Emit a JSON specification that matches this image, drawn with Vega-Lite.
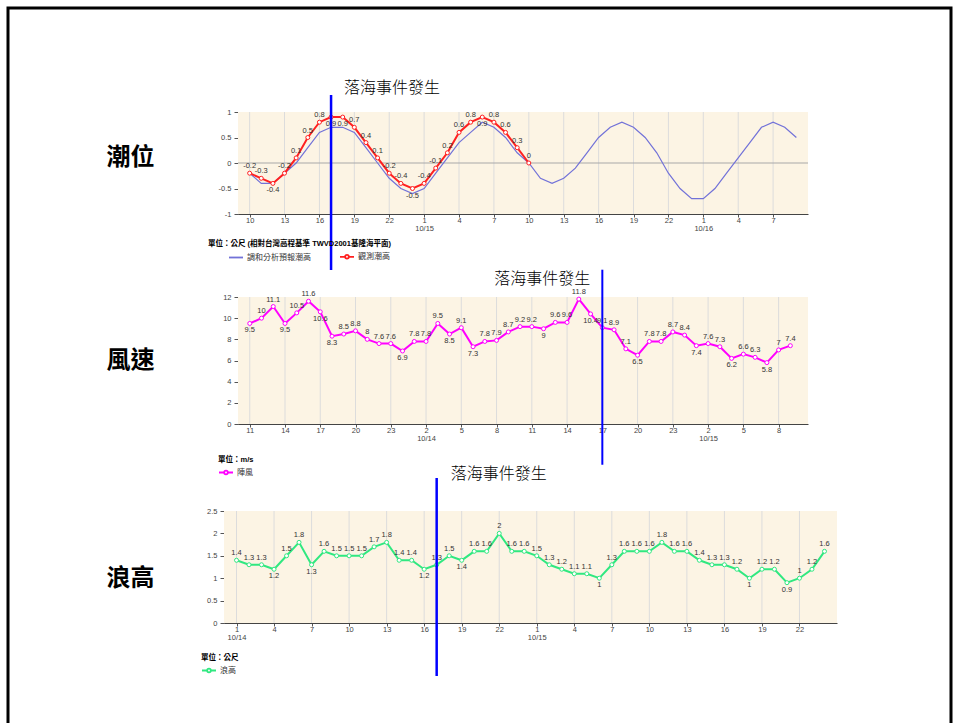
{
  "$schema": "https://vega.github.io/schema/vega-lite/v6.json",
  "width": 943,
  "height": 720,
  "autosize": "none",
  "padding": {"left": 8, "top": 8, "right": 4, "bottom": 0},
  "background": "white",
  "config": {
    "view": {"stroke": "#000000", "strokeWidth": 3},
    "font": "Liberation Sans, Noto Sans CJK TC",
    "axis": {
      "grid": false,
      "domainColor": "#444444",
      "domainWidth": 1,
      "tickColor": "#555555",
      "labelColor": "#444444",
      "labelFont": "Liberation Sans",
      "labelFontSize": 7.5,
      "labelFlush": false,
      "labelOverlap": false,
      "labelBound": false
    },
    "axisX": {"tickSize": 3, "labelPadding": -1, "labelLineHeight": 8},
    "axisY": {
      "tickSize": 4, "labelPadding": 3,
      "titleAngle": 0, "titleAlign": "center", "titleBaseline": "middle",
      "titleFont": "Noto Sans CJK TC", "titleFontSize": 24, "titleFontWeight": "bold", "titleColor": "#000000"
    },
    "legend": {
      "orient": "none", "direction": "horizontal", "padding": 0,
      "titleFont": "Liberation Sans, Noto Sans CJK TC", "titleFontSize": 7.5, "titleFontWeight": "bold",
      "titleColor": "#000000", "titlePadding": 1, "titleLimit": 400,
      "labelFont": "Liberation Sans, Noto Sans CJK TC", "labelFontSize": 8, "labelColor": "#333333", "labelOffset": 3,
      "symbolSize": 196, "symbolStrokeWidth": 1.8, "columnPadding": 8
    }
  },
  "datasets": {
    "events": [{"t": "2023-10-14T17:00", "label": "落海事件發生"}],
    "tide": [
      {"t": "2023-10-14T10:00", "series": "調和分析預報潮高", "v": -0.2},
      {"t": "2023-10-14T11:00", "series": "調和分析預報潮高", "v": -0.4},
      {"t": "2023-10-14T12:00", "series": "調和分析預報潮高", "v": -0.4},
      {"t": "2023-10-14T13:00", "series": "調和分析預報潮高", "v": -0.2},
      {"t": "2023-10-14T14:00", "series": "調和分析預報潮高", "v": 0},
      {"t": "2023-10-14T15:00", "series": "調和分析預報潮高", "v": 0.3},
      {"t": "2023-10-14T16:00", "series": "調和分析預報潮高", "v": 0.6},
      {"t": "2023-10-14T17:00", "series": "調和分析預報潮高", "v": 0.7},
      {"t": "2023-10-14T18:00", "series": "調和分析預報潮高", "v": 0.7},
      {"t": "2023-10-14T19:00", "series": "調和分析預報潮高", "v": 0.6},
      {"t": "2023-10-14T20:00", "series": "調和分析預報潮高", "v": 0.3},
      {"t": "2023-10-14T21:00", "series": "調和分析預報潮高", "v": 0},
      {"t": "2023-10-14T22:00", "series": "調和分析預報潮高", "v": -0.3},
      {"t": "2023-10-14T23:00", "series": "調和分析預報潮高", "v": -0.5},
      {"t": "2023-10-15T00:00", "series": "調和分析預報潮高", "v": -0.6},
      {"t": "2023-10-15T01:00", "series": "調和分析預報潮高", "v": -0.5},
      {"t": "2023-10-15T02:00", "series": "調和分析預報潮高", "v": -0.2},
      {"t": "2023-10-15T03:00", "series": "調和分析預報潮高", "v": 0.1},
      {"t": "2023-10-15T04:00", "series": "調和分析預報潮高", "v": 0.4},
      {"t": "2023-10-15T05:00", "series": "調和分析預報潮高", "v": 0.6},
      {"t": "2023-10-15T06:00", "series": "調和分析預報潮高", "v": 0.8},
      {"t": "2023-10-15T07:00", "series": "調和分析預報潮高", "v": 0.7},
      {"t": "2023-10-15T08:00", "series": "調和分析預報潮高", "v": 0.5},
      {"t": "2023-10-15T09:00", "series": "調和分析預報潮高", "v": 0.2},
      {"t": "2023-10-15T10:00", "series": "調和分析預報潮高", "v": 0},
      {"t": "2023-10-15T11:00", "series": "調和分析預報潮高", "v": -0.3},
      {"t": "2023-10-15T12:00", "series": "調和分析預報潮高", "v": -0.4},
      {"t": "2023-10-15T13:00", "series": "調和分析預報潮高", "v": -0.3},
      {"t": "2023-10-15T14:00", "series": "調和分析預報潮高", "v": -0.1},
      {"t": "2023-10-15T15:00", "series": "調和分析預報潮高", "v": 0.2},
      {"t": "2023-10-15T16:00", "series": "調和分析預報潮高", "v": 0.5},
      {"t": "2023-10-15T17:00", "series": "調和分析預報潮高", "v": 0.7},
      {"t": "2023-10-15T18:00", "series": "調和分析預報潮高", "v": 0.8},
      {"t": "2023-10-15T19:00", "series": "調和分析預報潮高", "v": 0.7},
      {"t": "2023-10-15T20:00", "series": "調和分析預報潮高", "v": 0.5},
      {"t": "2023-10-15T21:00", "series": "調和分析預報潮高", "v": 0.2},
      {"t": "2023-10-15T22:00", "series": "調和分析預報潮高", "v": -0.2},
      {"t": "2023-10-15T23:00", "series": "調和分析預報潮高", "v": -0.5},
      {"t": "2023-10-16T00:00", "series": "調和分析預報潮高", "v": -0.7},
      {"t": "2023-10-16T01:00", "series": "調和分析預報潮高", "v": -0.7},
      {"t": "2023-10-16T02:00", "series": "調和分析預報潮高", "v": -0.5},
      {"t": "2023-10-16T03:00", "series": "調和分析預報潮高", "v": -0.2},
      {"t": "2023-10-16T04:00", "series": "調和分析預報潮高", "v": 0.1},
      {"t": "2023-10-16T05:00", "series": "調和分析預報潮高", "v": 0.4},
      {"t": "2023-10-16T06:00", "series": "調和分析預報潮高", "v": 0.7},
      {"t": "2023-10-16T07:00", "series": "調和分析預報潮高", "v": 0.8},
      {"t": "2023-10-16T08:00", "series": "調和分析預報潮高", "v": 0.7},
      {"t": "2023-10-16T09:00", "series": "調和分析預報潮高", "v": 0.5},
      {"t": "2023-10-14T10:00", "series": "觀測潮高", "v": -0.2},
      {"t": "2023-10-14T11:00", "series": "觀測潮高", "v": -0.3},
      {"t": "2023-10-14T12:00", "series": "觀測潮高", "v": -0.4},
      {"t": "2023-10-14T13:00", "series": "觀測潮高", "v": -0.2},
      {"t": "2023-10-14T14:00", "series": "觀測潮高", "v": 0.1},
      {"t": "2023-10-14T15:00", "series": "觀測潮高", "v": 0.5},
      {"t": "2023-10-14T16:00", "series": "觀測潮高", "v": 0.8},
      {"t": "2023-10-14T17:00", "series": "觀測潮高", "v": 0.9},
      {"t": "2023-10-14T18:00", "series": "觀測潮高", "v": 0.9},
      {"t": "2023-10-14T19:00", "series": "觀測潮高", "v": 0.7},
      {"t": "2023-10-14T20:00", "series": "觀測潮高", "v": 0.4},
      {"t": "2023-10-14T21:00", "series": "觀測潮高", "v": 0.1},
      {"t": "2023-10-14T22:00", "series": "觀測潮高", "v": -0.2},
      {"t": "2023-10-14T23:00", "series": "觀測潮高", "v": -0.4},
      {"t": "2023-10-15T00:00", "series": "觀測潮高", "v": -0.5},
      {"t": "2023-10-15T01:00", "series": "觀測潮高", "v": -0.4},
      {"t": "2023-10-15T02:00", "series": "觀測潮高", "v": -0.1},
      {"t": "2023-10-15T03:00", "series": "觀測潮高", "v": 0.2},
      {"t": "2023-10-15T04:00", "series": "觀測潮高", "v": 0.6},
      {"t": "2023-10-15T05:00", "series": "觀測潮高", "v": 0.8},
      {"t": "2023-10-15T06:00", "series": "觀測潮高", "v": 0.9},
      {"t": "2023-10-15T07:00", "series": "觀測潮高", "v": 0.8},
      {"t": "2023-10-15T08:00", "series": "觀測潮高", "v": 0.6},
      {"t": "2023-10-15T09:00", "series": "觀測潮高", "v": 0.3},
      {"t": "2023-10-15T10:00", "series": "觀測潮高", "v": 0}
    ],
    "wind": [
      {"t": "2023-10-13T11:00", "series": "陣風", "v": 9.5},
      {"t": "2023-10-13T12:00", "series": "陣風", "v": 10},
      {"t": "2023-10-13T13:00", "series": "陣風", "v": 11.1},
      {"t": "2023-10-13T14:00", "series": "陣風", "v": 9.5},
      {"t": "2023-10-13T15:00", "series": "陣風", "v": 10.5},
      {"t": "2023-10-13T16:00", "series": "陣風", "v": 11.6},
      {"t": "2023-10-13T17:00", "series": "陣風", "v": 10.6},
      {"t": "2023-10-13T18:00", "series": "陣風", "v": 8.3},
      {"t": "2023-10-13T19:00", "series": "陣風", "v": 8.5},
      {"t": "2023-10-13T20:00", "series": "陣風", "v": 8.8},
      {"t": "2023-10-13T21:00", "series": "陣風", "v": 8},
      {"t": "2023-10-13T22:00", "series": "陣風", "v": 7.6},
      {"t": "2023-10-13T23:00", "series": "陣風", "v": 7.6},
      {"t": "2023-10-14T00:00", "series": "陣風", "v": 6.9},
      {"t": "2023-10-14T01:00", "series": "陣風", "v": 7.8},
      {"t": "2023-10-14T02:00", "series": "陣風", "v": 7.8},
      {"t": "2023-10-14T03:00", "series": "陣風", "v": 9.5},
      {"t": "2023-10-14T04:00", "series": "陣風", "v": 8.5},
      {"t": "2023-10-14T05:00", "series": "陣風", "v": 9.1},
      {"t": "2023-10-14T06:00", "series": "陣風", "v": 7.3},
      {"t": "2023-10-14T07:00", "series": "陣風", "v": 7.8},
      {"t": "2023-10-14T08:00", "series": "陣風", "v": 7.9},
      {"t": "2023-10-14T09:00", "series": "陣風", "v": 8.7},
      {"t": "2023-10-14T10:00", "series": "陣風", "v": 9.2},
      {"t": "2023-10-14T11:00", "series": "陣風", "v": 9.2},
      {"t": "2023-10-14T12:00", "series": "陣風", "v": 9},
      {"t": "2023-10-14T13:00", "series": "陣風", "v": 9.6},
      {"t": "2023-10-14T14:00", "series": "陣風", "v": 9.6},
      {"t": "2023-10-14T15:00", "series": "陣風", "v": 11.8},
      {"t": "2023-10-14T16:00", "series": "陣風", "v": 10.4},
      {"t": "2023-10-14T17:00", "series": "陣風", "v": 9.1},
      {"t": "2023-10-14T18:00", "series": "陣風", "v": 8.9},
      {"t": "2023-10-14T19:00", "series": "陣風", "v": 7.1},
      {"t": "2023-10-14T20:00", "series": "陣風", "v": 6.5},
      {"t": "2023-10-14T21:00", "series": "陣風", "v": 7.8},
      {"t": "2023-10-14T22:00", "series": "陣風", "v": 7.8},
      {"t": "2023-10-14T23:00", "series": "陣風", "v": 8.7},
      {"t": "2023-10-15T00:00", "series": "陣風", "v": 8.4},
      {"t": "2023-10-15T01:00", "series": "陣風", "v": 7.4},
      {"t": "2023-10-15T02:00", "series": "陣風", "v": 7.6},
      {"t": "2023-10-15T03:00", "series": "陣風", "v": 7.3},
      {"t": "2023-10-15T04:00", "series": "陣風", "v": 6.2},
      {"t": "2023-10-15T05:00", "series": "陣風", "v": 6.6},
      {"t": "2023-10-15T06:00", "series": "陣風", "v": 6.3},
      {"t": "2023-10-15T07:00", "series": "陣風", "v": 5.8},
      {"t": "2023-10-15T08:00", "series": "陣風", "v": 7},
      {"t": "2023-10-15T09:00", "series": "陣風", "v": 7.4}
    ],
    "wave": [
      {"t": "2023-10-14T01:00", "series": "浪高", "v": 1.4},
      {"t": "2023-10-14T02:00", "series": "浪高", "v": 1.3},
      {"t": "2023-10-14T03:00", "series": "浪高", "v": 1.3},
      {"t": "2023-10-14T04:00", "series": "浪高", "v": 1.2},
      {"t": "2023-10-14T05:00", "series": "浪高", "v": 1.5},
      {"t": "2023-10-14T06:00", "series": "浪高", "v": 1.8},
      {"t": "2023-10-14T07:00", "series": "浪高", "v": 1.3},
      {"t": "2023-10-14T08:00", "series": "浪高", "v": 1.6},
      {"t": "2023-10-14T09:00", "series": "浪高", "v": 1.5},
      {"t": "2023-10-14T10:00", "series": "浪高", "v": 1.5},
      {"t": "2023-10-14T11:00", "series": "浪高", "v": 1.5},
      {"t": "2023-10-14T12:00", "series": "浪高", "v": 1.7},
      {"t": "2023-10-14T13:00", "series": "浪高", "v": 1.8},
      {"t": "2023-10-14T14:00", "series": "浪高", "v": 1.4},
      {"t": "2023-10-14T15:00", "series": "浪高", "v": 1.4},
      {"t": "2023-10-14T16:00", "series": "浪高", "v": 1.2},
      {"t": "2023-10-14T17:00", "series": "浪高", "v": 1.3},
      {"t": "2023-10-14T18:00", "series": "浪高", "v": 1.5},
      {"t": "2023-10-14T19:00", "series": "浪高", "v": 1.4},
      {"t": "2023-10-14T20:00", "series": "浪高", "v": 1.6},
      {"t": "2023-10-14T21:00", "series": "浪高", "v": 1.6},
      {"t": "2023-10-14T22:00", "series": "浪高", "v": 2},
      {"t": "2023-10-14T23:00", "series": "浪高", "v": 1.6},
      {"t": "2023-10-15T00:00", "series": "浪高", "v": 1.6},
      {"t": "2023-10-15T01:00", "series": "浪高", "v": 1.5},
      {"t": "2023-10-15T02:00", "series": "浪高", "v": 1.3},
      {"t": "2023-10-15T03:00", "series": "浪高", "v": 1.2},
      {"t": "2023-10-15T04:00", "series": "浪高", "v": 1.1},
      {"t": "2023-10-15T05:00", "series": "浪高", "v": 1.1},
      {"t": "2023-10-15T06:00", "series": "浪高", "v": 1},
      {"t": "2023-10-15T07:00", "series": "浪高", "v": 1.3},
      {"t": "2023-10-15T08:00", "series": "浪高", "v": 1.6},
      {"t": "2023-10-15T09:00", "series": "浪高", "v": 1.6},
      {"t": "2023-10-15T10:00", "series": "浪高", "v": 1.6},
      {"t": "2023-10-15T11:00", "series": "浪高", "v": 1.8},
      {"t": "2023-10-15T12:00", "series": "浪高", "v": 1.6},
      {"t": "2023-10-15T13:00", "series": "浪高", "v": 1.6},
      {"t": "2023-10-15T14:00", "series": "浪高", "v": 1.4},
      {"t": "2023-10-15T15:00", "series": "浪高", "v": 1.3},
      {"t": "2023-10-15T16:00", "series": "浪高", "v": 1.3},
      {"t": "2023-10-15T17:00", "series": "浪高", "v": 1.2},
      {"t": "2023-10-15T18:00", "series": "浪高", "v": 1},
      {"t": "2023-10-15T19:00", "series": "浪高", "v": 1.2},
      {"t": "2023-10-15T20:00", "series": "浪高", "v": 1.2},
      {"t": "2023-10-15T21:00", "series": "浪高", "v": 0.9},
      {"t": "2023-10-15T22:00", "series": "浪高", "v": 1},
      {"t": "2023-10-15T23:00", "series": "浪高", "v": 1.2},
      {"t": "2023-10-16T00:00", "series": "浪高", "v": 1.6}
    ]
  },
  "resolve": {
    "scale": {"x": "independent", "y": "independent", "color": "independent"},
    "axis": {"x": "independent", "y": "independent"},
    "legend": {"color": "independent"}
  },
  "layer": [
    {
      "layer": [
        {
          "data": {"values": [{}]},
          "mark": {"type": "rect", "color": "#fcf4e4"},
          "encoding": {
            "x": {"datum": {"year": 2023, "month": 10, "date": 14, "hours": 9}, "type": "temporal",
                  "scale": {"domain": [{"year": 2023, "month": 10, "date": 14, "hours": 9}, {"year": 2023, "month": 10, "date": 16, "hours": 10}], "range": [230, 800]}},
            "x2": {"datum": {"year": 2023, "month": 10, "date": 16, "hours": 10}},
            "y": {"datum": -1, "type": "quantitative", "scale": {"domain": [-1, 1], "range": [206, 104], "nice": false, "zero": false}},
            "y2": {"datum": 1}
          }
        },
        {
          "data": {"name": "tide"},
          "transform": [{"filter": "datum.series === '調和分析預報潮高' && hours(toDate(datum.t)) % 3 === 1"}],
          "mark": {"type": "rule", "color": "#dcdcdc", "strokeWidth": 1},
          "encoding": {
            "x": {"field": "t", "type": "temporal"},
            "y": {"datum": -1, "type": "quantitative"},
            "y2": {"datum": 1}
          }
        },
        {
          "data": {"values": [{}]},
          "mark": {"type": "rule", "color": "#a8a8a8", "strokeWidth": 1},
          "encoding": {
            "x": {"datum": {"year": 2023, "month": 10, "date": 14, "hours": 9}, "type": "temporal"},
            "x2": {"datum": {"year": 2023, "month": 10, "date": 16, "hours": 10}},
            "y": {"datum": 0, "type": "quantitative"}
          }
        },
        {
          "data": {"name": "tide"},
          "transform": [{"filter": "datum.series === '調和分析預報潮高'"}],
          "mark": {"type": "line", "strokeWidth": 1.2},
          "encoding": {
            "x": {"field": "t", "type": "temporal",
                  "axis": {"orient": "bottom", "offset": -514, "title": null,
                           "labelExpr": "hours(datum.value) < 3 ? ['' + hours(datum.value), timeFormat(datum.value, '%m/%d')] : '' + hours(datum.value)",
                           "values": [
                             {"year": 2023, "month": 10, "date": 14, "hours": 10}, {"year": 2023, "month": 10, "date": 14, "hours": 13},
                             {"year": 2023, "month": 10, "date": 14, "hours": 16}, {"year": 2023, "month": 10, "date": 14, "hours": 19},
                             {"year": 2023, "month": 10, "date": 14, "hours": 22}, {"year": 2023, "month": 10, "date": 15, "hours": 1},
                             {"year": 2023, "month": 10, "date": 15, "hours": 4}, {"year": 2023, "month": 10, "date": 15, "hours": 7},
                             {"year": 2023, "month": 10, "date": 15, "hours": 10}, {"year": 2023, "month": 10, "date": 15, "hours": 13},
                             {"year": 2023, "month": 10, "date": 15, "hours": 16}, {"year": 2023, "month": 10, "date": 15, "hours": 19},
                             {"year": 2023, "month": 10, "date": 15, "hours": 22}, {"year": 2023, "month": 10, "date": 16, "hours": 1},
                             {"year": 2023, "month": 10, "date": 16, "hours": 4}, {"year": 2023, "month": 10, "date": 16, "hours": 7}
                           ]}},
            "y": {"field": "v", "type": "quantitative",
                  "axis": {"orient": "left", "offset": -230, "values": [-1, -0.5, 0, 0.5, 1], "labelExpr": "'' + datum.value",
                           "title": "潮位", "titleX": -108, "titleY": 149}},
            "color": {"field": "series", "type": "nominal",
                      "scale": {"domain": ["調和分析預報潮高", "觀測潮高"], "range": ["#7272d8", "#ff2020"]},
                      "legend": {"title": "單位：公尺 (相對台灣高程基準 TWVD2001基隆海平面)", "legendX": 200, "legendY": 232,
                                 "symbolOffset": 20,
                                 "encode": {"symbols": {"update": {
                                   "shape": {"signal": "datum.value === '觀測潮高' ? 'M-1,0H-0.26M0.26,0H1M0.26,0A0.26,0.26,0,1,1,-0.26,0A0.26,0.26,0,1,1,0.26,0' : 'stroke'"},
                                   "fill": {"value": "#ffffff"}}}}}}
          }
        },
        {
          "data": {"name": "tide"},
          "transform": [{"filter": "datum.series === '觀測潮高'"}],
          "mark": {"type": "line", "strokeWidth": 2},
          "encoding": {
            "x": {"field": "t", "type": "temporal"},
            "y": {"field": "v", "type": "quantitative"},
            "color": {"field": "series", "type": "nominal"}
          }
        },
        {
          "data": {"name": "tide"},
          "transform": [{"filter": "datum.series === '觀測潮高'"}],
          "mark": {"type": "point", "filled": true, "fill": "#ffffff", "stroke": "#ff2020", "strokeWidth": 1, "size": 16, "opacity": 1},
          "encoding": {
            "x": {"field": "t", "type": "temporal"},
            "y": {"field": "v", "type": "quantitative"}
          }
        },
        {
          "data": {"name": "tide"},
          "transform": [{"filter": "datum.series === '觀測潮高' && indexof(['10/14 12', '10/14 17', '10/14 18', '10/15 00', '10/15 06'], timeFormat(toDate(datum.t), '%m/%d %H')) < 0"}],
          "mark": {"type": "text", "baseline": "bottom", "dy": -3, "fontSize": 7.5, "font": "Liberation Sans", "color": "#333333"},
          "encoding": {
            "x": {"field": "t", "type": "temporal"},
            "y": {"field": "v", "type": "quantitative"},
            "text": {"field": "v", "type": "nominal"}
          }
        },
        {
          "data": {"name": "tide"},
          "transform": [{"filter": "datum.series === '觀測潮高' && indexof(['10/14 12', '10/14 17', '10/14 18', '10/15 00', '10/15 06'], timeFormat(toDate(datum.t), '%m/%d %H')) >= 0"}],
          "mark": {"type": "text", "baseline": "top", "dy": 3, "fontSize": 7.5, "font": "Liberation Sans", "color": "#333333"},
          "encoding": {
            "x": {"field": "t", "type": "temporal"},
            "y": {"field": "v", "type": "quantitative"},
            "text": {"field": "v", "type": "nominal"}
          }
        },
        {
          "data": {"name": "events"},
          "mark": {"type": "rule", "color": "#0000ff", "strokeWidth": 2.5},
          "encoding": {
            "x": {"field": "t", "type": "temporal"},
            "y": {"datum": 1.333, "type": "quantitative"},
            "y2": {"datum": -2.098}
          }
        },
        {
          "data": {"name": "events"},
          "mark": {"type": "text", "align": "left", "baseline": "middle", "dx": 13, "fontSize": 16, "fontWeight": 300, "font": "Noto Sans CJK TC", "color": "#000000"},
          "encoding": {
            "x": {"field": "t", "type": "temporal"},
            "y": {"datum": 1.47, "type": "quantitative"},
            "text": {"field": "label"}
          }
        }
      ]
    },
    {
      "layer": [
        {
          "data": {"values": [{}]},
          "mark": {"type": "rect", "color": "#fcf4e4"},
          "encoding": {
            "x": {"datum": {"year": 2023, "month": 10, "date": 13, "hours": 10}, "type": "temporal",
                  "scale": {"domain": [{"year": 2023, "month": 10, "date": 13, "hours": 10}, {"year": 2023, "month": 10, "date": 15, "hours": 10, "minutes": 30}], "range": [230, 800]}},
            "x2": {"datum": {"year": 2023, "month": 10, "date": 15, "hours": 10, "minutes": 30}},
            "y": {"datum": 0, "type": "quantitative", "scale": {"domain": [0, 12], "range": [416, 289], "nice": false, "zero": false}},
            "y2": {"datum": 12}
          }
        },
        {
          "data": {"name": "wind"},
          "transform": [{"filter": "hours(toDate(datum.t)) % 3 === 2"}],
          "mark": {"type": "rule", "color": "#dcdcdc", "strokeWidth": 1},
          "encoding": {
            "x": {"field": "t", "type": "temporal"},
            "y": {"datum": 0, "type": "quantitative"},
            "y2": {"datum": 12}
          }
        },
        {
          "data": {"name": "wind"},
          "mark": {"type": "line", "strokeWidth": 2},
          "encoding": {
            "x": {"field": "t", "type": "temporal",
                  "axis": {"orient": "bottom", "offset": -304, "title": null,
                           "labelExpr": "hours(datum.value) < 3 ? ['' + hours(datum.value), timeFormat(datum.value, '%m/%d')] : '' + hours(datum.value)",
                           "values": [
                             {"year": 2023, "month": 10, "date": 13, "hours": 11}, {"year": 2023, "month": 10, "date": 13, "hours": 14},
                             {"year": 2023, "month": 10, "date": 13, "hours": 17}, {"year": 2023, "month": 10, "date": 13, "hours": 20},
                             {"year": 2023, "month": 10, "date": 13, "hours": 23}, {"year": 2023, "month": 10, "date": 14, "hours": 2},
                             {"year": 2023, "month": 10, "date": 14, "hours": 5}, {"year": 2023, "month": 10, "date": 14, "hours": 8},
                             {"year": 2023, "month": 10, "date": 14, "hours": 11}, {"year": 2023, "month": 10, "date": 14, "hours": 14},
                             {"year": 2023, "month": 10, "date": 14, "hours": 17}, {"year": 2023, "month": 10, "date": 14, "hours": 20},
                             {"year": 2023, "month": 10, "date": 14, "hours": 23}, {"year": 2023, "month": 10, "date": 15, "hours": 2},
                             {"year": 2023, "month": 10, "date": 15, "hours": 5}, {"year": 2023, "month": 10, "date": 15, "hours": 8}
                           ]}},
            "y": {"field": "v", "type": "quantitative",
                  "axis": {"orient": "left", "offset": -230, "values": [0, 2, 4, 6, 8, 10, 12], "labelExpr": "'' + datum.value",
                           "title": "風速", "titleX": -108, "titleY": 352}},
            "color": {"field": "series", "type": "nominal",
                      "scale": {"domain": ["陣風"], "range": ["#ff00ff"]},
                      "legend": {"title": "單位：m/s", "legendX": 210, "legendY": 448,
                                 "symbolType": "M-1,0H-0.26M0.26,0H1M0.26,0A0.26,0.26,0,1,1,-0.26,0A0.26,0.26,0,1,1,0.26,0",
                                 "encode": {"symbols": {"update": {"fill": {"value": "#ffffff"}}}}}}
          }
        },
        {
          "data": {"name": "wind"},
          "mark": {"type": "point", "filled": true, "fill": "#ffffff", "stroke": "#ff00ff", "strokeWidth": 1, "size": 16, "opacity": 1},
          "encoding": {
            "x": {"field": "t", "type": "temporal"},
            "y": {"field": "v", "type": "quantitative"}
          }
        },
        {
          "data": {"name": "wind"},
          "transform": [{"filter": "indexof(['10/13 11', '10/13 14', '10/13 17', '10/13 18', '10/14 00', '10/14 04', '10/14 06', '10/14 12', '10/14 16', '10/14 20', '10/15 01', '10/15 04', '10/15 07'], timeFormat(toDate(datum.t), '%m/%d %H')) < 0"}],
          "mark": {"type": "text", "baseline": "bottom", "dy": -3, "fontSize": 7.5, "font": "Liberation Sans", "color": "#333333"},
          "encoding": {
            "x": {"field": "t", "type": "temporal"},
            "y": {"field": "v", "type": "quantitative"},
            "text": {"field": "v", "type": "nominal"}
          }
        },
        {
          "data": {"name": "wind"},
          "transform": [{"filter": "indexof(['10/13 11', '10/13 14', '10/13 17', '10/13 18', '10/14 00', '10/14 04', '10/14 06', '10/14 12', '10/14 16', '10/14 20', '10/15 01', '10/15 04', '10/15 07'], timeFormat(toDate(datum.t), '%m/%d %H')) >= 0"}],
          "mark": {"type": "text", "baseline": "top", "dy": 3, "fontSize": 7.5, "font": "Liberation Sans", "color": "#333333"},
          "encoding": {
            "x": {"field": "t", "type": "temporal"},
            "y": {"field": "v", "type": "quantitative"},
            "text": {"field": "v", "type": "nominal"}
          }
        },
        {
          "data": {"name": "events"},
          "mark": {"type": "rule", "color": "#0000ff", "strokeWidth": 2},
          "encoding": {
            "x": {"field": "t", "type": "temporal"},
            "y": {"datum": 14.58, "type": "quantitative"},
            "y2": {"datum": -3.85}
          }
        },
        {
          "data": {"name": "events"},
          "mark": {"type": "text", "align": "right", "baseline": "middle", "dx": -12, "fontSize": 16, "fontWeight": 300, "font": "Noto Sans CJK TC", "color": "#000000"},
          "encoding": {
            "x": {"field": "t", "type": "temporal"},
            "y": {"datum": 13.73, "type": "quantitative"},
            "text": {"field": "label"}
          }
        }
      ]
    },
    {
      "layer": [
        {
          "data": {"values": [{}]},
          "mark": {"type": "rect", "color": "#fcf4e4"},
          "encoding": {
            "x": {"datum": {"year": 2023, "month": 10, "date": 14, "hours": 0}, "type": "temporal",
                  "scale": {"domain": [{"year": 2023, "month": 10, "date": 14, "hours": 0}, {"year": 2023, "month": 10, "date": 16, "hours": 1}], "range": [216, 829]}},
            "x2": {"datum": {"year": 2023, "month": 10, "date": 16, "hours": 1}},
            "y": {"datum": 0, "type": "quantitative", "scale": {"domain": [0, 2.5], "range": [615, 503], "nice": false, "zero": false}},
            "y2": {"datum": 2.5}
          }
        },
        {
          "data": {"name": "wave"},
          "transform": [{"filter": "hours(toDate(datum.t)) % 3 === 1"}],
          "mark": {"type": "rule", "color": "#dcdcdc", "strokeWidth": 1},
          "encoding": {
            "x": {"field": "t", "type": "temporal"},
            "y": {"datum": 0, "type": "quantitative"},
            "y2": {"datum": 2.5}
          }
        },
        {
          "data": {"name": "wave"},
          "mark": {"type": "line", "strokeWidth": 2},
          "encoding": {
            "x": {"field": "t", "type": "temporal",
                  "axis": {"orient": "bottom", "offset": -105, "title": null,
                           "labelExpr": "hours(datum.value) < 3 ? ['' + hours(datum.value), timeFormat(datum.value, '%m/%d')] : '' + hours(datum.value)",
                           "values": [
                             {"year": 2023, "month": 10, "date": 14, "hours": 1}, {"year": 2023, "month": 10, "date": 14, "hours": 4},
                             {"year": 2023, "month": 10, "date": 14, "hours": 7}, {"year": 2023, "month": 10, "date": 14, "hours": 10},
                             {"year": 2023, "month": 10, "date": 14, "hours": 13}, {"year": 2023, "month": 10, "date": 14, "hours": 16},
                             {"year": 2023, "month": 10, "date": 14, "hours": 19}, {"year": 2023, "month": 10, "date": 14, "hours": 22},
                             {"year": 2023, "month": 10, "date": 15, "hours": 1}, {"year": 2023, "month": 10, "date": 15, "hours": 4},
                             {"year": 2023, "month": 10, "date": 15, "hours": 7}, {"year": 2023, "month": 10, "date": 15, "hours": 10},
                             {"year": 2023, "month": 10, "date": 15, "hours": 13}, {"year": 2023, "month": 10, "date": 15, "hours": 16},
                             {"year": 2023, "month": 10, "date": 15, "hours": 19}, {"year": 2023, "month": 10, "date": 15, "hours": 22}
                           ]}},
            "y": {"field": "v", "type": "quantitative",
                  "axis": {"orient": "left", "offset": -216, "values": [0, 0.5, 1, 1.5, 2, 2.5], "labelExpr": "'' + datum.value",
                           "title": "浪高", "titleX": -94, "titleY": 570}},
            "color": {"field": "series", "type": "nominal",
                      "scale": {"domain": ["浪高"], "range": ["#30e880"]},
                      "legend": {"title": "單位：公尺", "legendX": 193, "legendY": 646,
                                 "symbolType": "M-1,0H-0.26M0.26,0H1M0.26,0A0.26,0.26,0,1,1,-0.26,0A0.26,0.26,0,1,1,0.26,0",
                                 "encode": {"symbols": {"update": {"fill": {"value": "#ffffff"}}}}}}
          }
        },
        {
          "data": {"name": "wave"},
          "mark": {"type": "point", "filled": true, "fill": "#ffffff", "stroke": "#30e880", "strokeWidth": 1, "size": 16, "opacity": 1},
          "encoding": {
            "x": {"field": "t", "type": "temporal"},
            "y": {"field": "v", "type": "quantitative"}
          }
        },
        {
          "data": {"name": "wave"},
          "transform": [{"filter": "indexof(['10/14 04', '10/14 07', '10/14 16', '10/14 19', '10/15 06', '10/15 18', '10/15 21'], timeFormat(toDate(datum.t), '%m/%d %H')) < 0"}],
          "mark": {"type": "text", "baseline": "bottom", "dy": -3, "fontSize": 7.5, "font": "Liberation Sans", "color": "#333333"},
          "encoding": {
            "x": {"field": "t", "type": "temporal"},
            "y": {"field": "v", "type": "quantitative"},
            "text": {"field": "v", "type": "nominal"}
          }
        },
        {
          "data": {"name": "wave"},
          "transform": [{"filter": "indexof(['10/14 04', '10/14 07', '10/14 16', '10/14 19', '10/15 06', '10/15 18', '10/15 21'], timeFormat(toDate(datum.t), '%m/%d %H')) >= 0"}],
          "mark": {"type": "text", "baseline": "top", "dy": 3, "fontSize": 7.5, "font": "Liberation Sans", "color": "#333333"},
          "encoding": {
            "x": {"field": "t", "type": "temporal"},
            "y": {"field": "v", "type": "quantitative"},
            "text": {"field": "v", "type": "nominal"}
          }
        },
        {
          "data": {"name": "events"},
          "mark": {"type": "rule", "color": "#0000ff", "strokeWidth": 2.5},
          "encoding": {
            "x": {"field": "t", "type": "temporal"},
            "y": {"datum": 3.237, "type": "quantitative"},
            "y2": {"datum": -1.183}
          }
        },
        {
          "data": {"name": "events"},
          "mark": {"type": "text", "align": "left", "baseline": "middle", "dx": 14, "fontSize": 16, "fontWeight": 300, "font": "Noto Sans CJK TC", "color": "#000000"},
          "encoding": {
            "x": {"field": "t", "type": "temporal"},
            "y": {"datum": 3.326, "type": "quantitative"},
            "text": {"field": "label"}
          }
        }
      ]
    }
  ]
}
